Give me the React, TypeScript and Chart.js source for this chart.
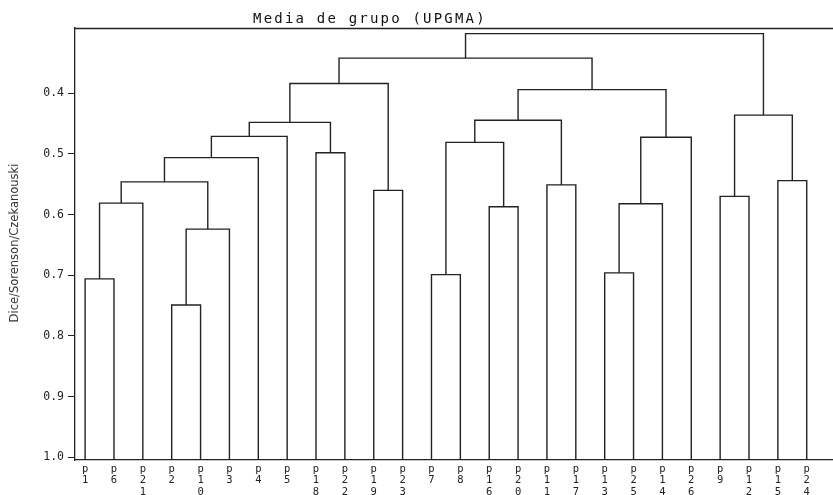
import React, { useEffect, useRef } from "react";
import { Chart, registerables } from "chart.js";

Chart.register(...registerables);

// Leaf labels in dendrogram order (left to right)
const leafNames: string[] = [
  "p1", "p6", "p21", "p2", "p10", "p3", "p4", "p5", "p18", "p22", "p19", "p23", "p7",
  "p8", "p16", "p20", "p11", "p17", "p13", "p25", "p14", "p26", "p9", "p12", "p15", "p24",
];

// Merges: [left child, right child, height]; ids < 26 are leaves, 26+ are earlier merges
const merges: [number, number, number][] = [
  [0, 1, 0.706],   // 26
  [26, 2, 0.581],  // 27
  [3, 4, 0.749],   // 28
  [28, 5, 0.624],  // 29
  [27, 29, 0.546], // 30
  [30, 6, 0.506],  // 31
  [31, 7, 0.471],  // 32
  [8, 9, 0.498],   // 33
  [32, 33, 0.448], // 34
  [10, 11, 0.56],  // 35
  [34, 35, 0.384], // 36
  [12, 13, 0.699], // 37
  [14, 15, 0.587], // 38
  [37, 38, 0.481], // 39
  [16, 17, 0.551], // 40
  [39, 40, 0.4445],// 41
  [18, 19, 0.696], // 42
  [42, 20, 0.582], // 43
  [43, 21, 0.4725],// 44
  [41, 44, 0.394], // 45
  [36, 45, 0.342], // 46
  [22, 23, 0.57],  // 47
  [24, 25, 0.544], // 48
  [47, 48, 0.436], // 49
  [46, 49, 0.3016],// 50
];

const yTicks: number[] = [0.4, 0.5, 0.6, 0.7, 0.8, 0.9, 1.0];
const yMin = 0.2924;
const yMax = 1.0045;
const titleText = "Media de grupo (UPGMA)";
const yTitleText = "Dice/Sorenson/Czekanouski";

const lineColor = "#222";

function buildDatasets() {
  const xs: number[] = leafNames.map((_, i) => i);
  const hs: number[] = leafNames.map(() => yMax);
  const datasets: any[] = [];
  merges.forEach(([a, b, h]) => {
    const xa = xs[a];
    const xb = xs[b];
    datasets.push({
      data: [
        { x: xa, y: hs[a] },
        { x: xa, y: h },
        { x: xb, y: h },
        { x: xb, y: hs[b] },
      ],
      showLine: true,
      borderColor: lineColor,
      borderWidth: 1.4,
      pointRadius: 0,
      fill: false,
      tension: 0,
    });
    xs.push((xa + xb) / 2);
    hs.push(h);
  });
  return datasets;
}

const decorPlugin = {
  id: "decor",
  afterDraw(chart: any) {
    const { ctx, chartArea } = chart;
    ctx.save();
    // top frame line
    ctx.strokeStyle = lineColor;
    ctx.lineWidth = 1.3;
    ctx.beginPath();
    ctx.moveTo(chartArea.left, chartArea.top + 0.5);
    ctx.lineTo(chartArea.right, chartArea.top + 0.5);
    ctx.stroke();
    // title
    ctx.fillStyle = "#111";
    ctx.font = "14px 'DejaVu Sans Mono'";
    (ctx as any).letterSpacing = "2.2px";
    ctx.textAlign = "left";
    ctx.textBaseline = "alphabetic";
    ctx.fillText(titleText, 253, 23);
    (ctx as any).letterSpacing = "0px";
    // y axis title
    ctx.translate(15, 243);
    ctx.rotate(-Math.PI / 2);
    ctx.font = "11.5px 'DejaVu Sans'";
    ctx.fillStyle = "#333";
    ctx.textAlign = "center";
    ctx.textBaseline = "middle";
    ctx.fillText(yTitleText, 0, 0);
    ctx.restore();
  },
};

export default function App() {
  const canvasRef = useRef<HTMLCanvasElement | null>(null);

  useEffect(() => {
    document.body.style.margin = "0";
    const canvas = canvasRef.current;
    if (!canvas) return;
    const chart = new Chart(canvas, {
      type: "scatter",
      data: { datasets: buildDatasets() },
      options: {
        responsive: false,
        animation: false,
        layout: { padding: { top: 28, left: 0, right: 0, bottom: 0 } },
        plugins: {
          legend: { display: false },
          tooltip: { enabled: false },
          title: { display: false },
        },
        scales: {
          x: {
            type: "linear",
            min: -0.35,
            max: 25.91,
            afterFit: (s: any) => {
              s.height = 35;
            },
            afterBuildTicks: (s: any) => {
              s.ticks = leafNames.map((_, i) => ({ value: i }));
            },
            grid: { display: true, drawOnChartArea: false, drawTicks: false },
            border: { display: true, color: lineColor, width: 1.3 },
            ticks: {
              autoSkip: false,
              maxRotation: 0,
              minRotation: 0,
              padding: 3,
              color: "#222",
              font: { family: "'DejaVu Sans Mono'", size: 10.5, lineHeight: 1.1 },
              callback: (v: any) => {
                const name = leafNames[Math.round(Number(v))];
                return name ? name.split("") : "";
              },
            },
          },
          y: {
            type: "linear",
            reverse: true,
            min: yMin,
            max: yMax,
            afterFit: (s: any) => {
              s.width = 75;
            },
            afterBuildTicks: (s: any) => {
              s.ticks = yTicks.map((v) => ({ value: v }));
            },
            grid: {
              display: true,
              drawOnChartArea: false,
              drawTicks: true,
              tickLength: 7,
              color: lineColor,
            },
            border: { display: true, color: lineColor, width: 1.3 },
            ticks: {
              padding: 4,
              color: "#222",
              font: { family: "'DejaVu Sans Mono'", size: 11.5 },
              callback: (v: any) => Number(v).toFixed(1),
            },
          },
        },
      },
      plugins: [decorPlugin],
    });
    return () => chart.destroy();
  }, []);

  return (
    <div style={{ width: 833, height: 495, background: "#fff" }}>
      <canvas ref={canvasRef} width={833} height={495} style={{ display: "block" }} />
    </div>
  );
}
